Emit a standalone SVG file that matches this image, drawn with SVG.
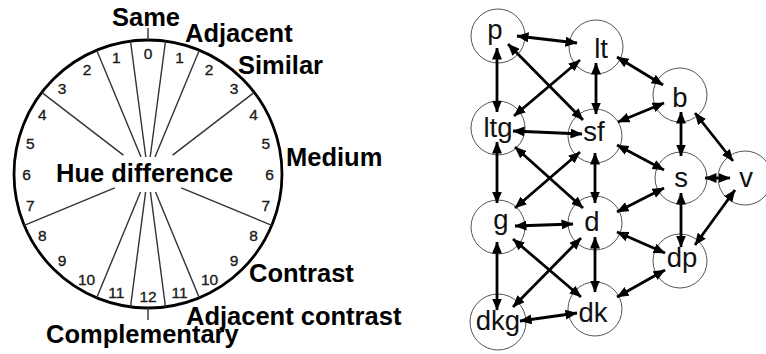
<svg xmlns="http://www.w3.org/2000/svg" width="766" height="354" viewBox="0 0 766 354">
<defs>
<marker id="ah" viewBox="0 0 12 10" markerUnits="userSpaceOnUse" markerWidth="12" markerHeight="10" refX="11.5" refY="5" orient="auto-start-reverse">
<path d="M0,0 L12,5 L0,10 z" fill="#000"/>
</marker>
</defs>
<style>
.lbl{font-family:"Liberation Sans",Arial,sans-serif;font-weight:bold;font-size:25.5px;fill:#000}
.num{font-family:"Liberation Sans",Arial,sans-serif;font-size:15.5px;fill:#1a1a1a;stroke:#1a1a1a;stroke-width:0.35;text-anchor:middle}
.spoke{stroke:#333;stroke-width:1.4;fill:none}
.node circle{fill:none;stroke:#555;stroke-width:1}
.node text{font-family:"Liberation Sans",Arial,sans-serif;font-size:27.5px;fill:#111;text-anchor:middle}
.edges line{stroke:#000;stroke-width:2.8;marker-start:url(#ah);marker-end:url(#ah)}
</style>
<rect width="766" height="354" fill="#fff"/>

<g id="wheel">
<circle cx="148" cy="174" r="134" fill="none" stroke="#000" stroke-width="2.8"/>
<line class="spoke" x1="148" y1="28" x2="148" y2="40"/>
<line class="spoke" x1="148" y1="308" x2="148" y2="320"/>
<line class="spoke" x1="165.5" y1="41.2" x2="150.2" y2="157"/>
<line class="spoke" x1="130.5" y1="41.2" x2="145.8" y2="157"/>
<line class="spoke" x1="199.3" y1="50.2" x2="155" y2="157"/>
<line class="spoke" x1="96.7" y1="50.2" x2="141" y2="157"/>
<line class="spoke" x1="254.3" y1="92.4" x2="172.6" y2="155.1"/>
<line class="spoke" x1="41.7" y1="92.4" x2="123.4" y2="155.1"/>
<line class="spoke" x1="271.8" y1="225.3" x2="181.3" y2="187.8"/>
<line class="spoke" x1="24.2" y1="225.3" x2="114.7" y2="187.8"/>
<line class="spoke" x1="199.3" y1="297.8" x2="155.5" y2="192"/>
<line class="spoke" x1="96.7" y1="297.8" x2="140.5" y2="192"/>
<line class="spoke" x1="165.5" y1="306.8" x2="150.4" y2="192"/>
<line class="spoke" x1="130.5" y1="306.8" x2="145.6" y2="192"/>
<g id="numbers">
<text class="num" x="148" y="59">0</text>
<text class="num" x="179.6" y="63">1</text>
<text class="num" x="116.4" y="63">1</text>
<text class="num" x="209" y="75">2</text>
<text class="num" x="87" y="75">2</text>
<text class="num" x="234" y="94">3</text>
<text class="num" x="62" y="94">3</text>
<text class="num" x="253.6" y="119.5">4</text>
<text class="num" x="42.4" y="119.5">4</text>
<text class="num" x="265.8" y="148.5">5</text>
<text class="num" x="30.2" y="148.5">5</text>
<text class="num" x="269.5" y="179.5">6</text>
<text class="num" x="26.5" y="179.5">6</text>
<text class="num" x="265.8" y="211">7</text>
<text class="num" x="30.2" y="211">7</text>
<text class="num" x="253.6" y="240.5">8</text>
<text class="num" x="42.4" y="240.5">8</text>
<text class="num" x="234" y="266">9</text>
<text class="num" x="62" y="266">9</text>
<text class="num" x="209.5" y="285">10</text>
<text class="num" x="86.5" y="285">10</text>
<text class="num" x="179.6" y="297.5">11</text>
<text class="num" x="116.4" y="297.5">11</text>
<text class="num" x="148" y="301.5">12</text>
</g>
<text class="lbl" x="112" y="26">Same</text>
<text class="lbl" x="185" y="42">Adjacent</text>
<text class="lbl" x="238" y="74">Similar</text>
<text class="lbl" x="286" y="166">Medium</text>
<text class="lbl" x="56" y="182">Hue difference</text>
<text class="lbl" x="249" y="282">Contrast</text>
<text class="lbl" x="186" y="325">Adjacent contrast</text>
<text class="lbl" x="46" y="343">Complementary</text>
</g>

<g id="node-p" class="node"><circle cx="498" cy="36" r="27"/><text x="495" y="39">p</text></g>
<g id="node-lt" class="node"><circle cx="596" cy="47" r="27"/><text x="601" y="58">lt</text></g>
<g id="node-b" class="node"><circle cx="680" cy="95" r="27"/><text x="680" y="107">b</text></g>
<g id="node-ltg" class="node"><circle cx="498" cy="128" r="27"/><text x="498" y="137">ltg</text></g>
<g id="node-sf" class="node"><circle cx="595" cy="136" r="27"/><text x="594" y="141">sf</text></g>
<g id="node-s" class="node"><circle cx="681" cy="178" r="26"/><text x="681" y="187">s</text></g>
<g id="node-v" class="node"><circle cx="745" cy="178" r="27"/><text x="746" y="187">v</text></g>
<g id="node-g" class="node"><circle cx="498" cy="227" r="27"/><text x="501" y="229">g</text></g>
<g id="node-d" class="node"><circle cx="595" cy="223" r="27"/><text x="592" y="231">d</text></g>
<g id="node-dp" class="node"><circle cx="680" cy="261" r="27"/><text x="682" y="267">dp</text></g>
<g id="node-dkg" class="node"><circle cx="498" cy="322" r="28"/><text x="498" y="330">dkg</text></g>
<g id="node-dk" class="node"><circle cx="595" cy="309" r="27"/><text x="593" y="322">dk</text></g>

<g id="connectors" class="edges">
<line x1="517" y1="36" x2="577" y2="43"/>
<line x1="497" y1="48" x2="497" y2="112"/>
<line x1="508" y1="44" x2="583" y2="120"/>
<line x1="580" y1="60" x2="514" y2="116"/>
<line x1="596" y1="63" x2="596" y2="114"/>
<line x1="617" y1="57" x2="663" y2="85"/>
<line x1="513" y1="131" x2="582" y2="134"/>
<line x1="497" y1="142" x2="497" y2="203"/>
<line x1="515" y1="147" x2="583" y2="208"/>
<line x1="580" y1="152" x2="515" y2="208"/>
<line x1="595" y1="153" x2="595" y2="203"/>
<line x1="618" y1="122" x2="664" y2="103"/>
<line x1="617" y1="145" x2="664" y2="170"/>
<line x1="515" y1="226" x2="573" y2="224"/>
<line x1="497" y1="242" x2="497" y2="310"/>
<line x1="513" y1="239" x2="581" y2="297"/>
<line x1="581" y1="238" x2="513" y2="307"/>
<line x1="595" y1="237" x2="595" y2="292"/>
<line x1="617" y1="212" x2="664" y2="188"/>
<line x1="617" y1="232" x2="665" y2="253"/>
<line x1="520" y1="321" x2="577" y2="313"/>
<line x1="617" y1="297" x2="665" y2="270"/>
<line x1="681" y1="112" x2="681" y2="156"/>
<line x1="695" y1="113" x2="733" y2="161"/>
<line x1="705" y1="178" x2="730" y2="178"/>
<line x1="681" y1="193" x2="681" y2="247"/>
<line x1="695" y1="245" x2="735" y2="190"/>
</g>
</svg>
